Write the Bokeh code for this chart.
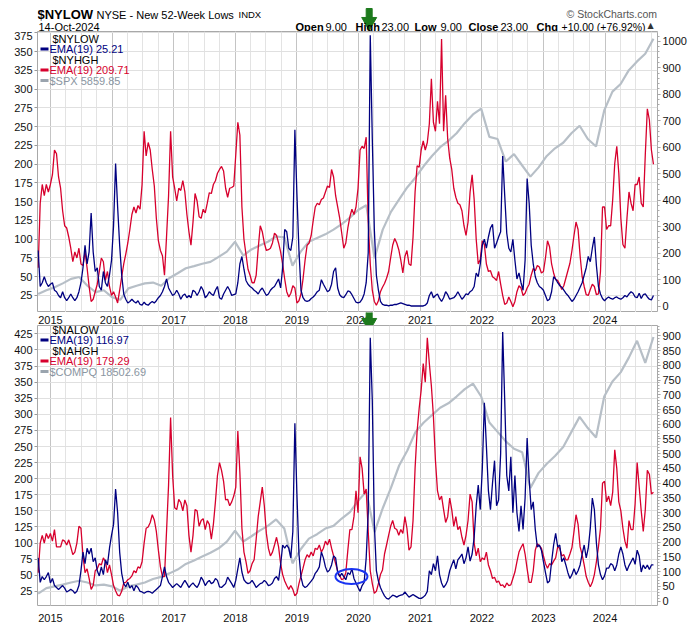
import pandas as pd
from bokeh.plotting import figure
from bokeh.models import Range1d, LinearAxis, FixedTicker, Label, BoxAnnotation, DatetimeTickFormatter
from bokeh.layouts import column
from bokeh.embed import file_html
from bokeh.resources import INLINE
from bokeh.core.properties import value

# ---------------- data ----------------
START, END = "2014-10-20", "2024-10-14"        # first / last bar of every series
VIEW_START, VIEW_END = "2014-10-16", "2024-11-07"
YEARS = list(range(2015, 2025))
YEAR_LABELS = [str(y) for y in YEARS]

# NYSE new 52-week lows, EMA(19)  (left axis)
nylow_ema = [
    85, 37, 42, 50, 42, 37, 40, 42, 32, 30, 25, 22, 30, 22, 18, 22, 27, 22, 18, 22,
    30, 42, 62, 92, 67, 83, 135, 83, 57, 62, 37, 32, 57, 42, 37, 52, 72, 118, 201, 143,
    92, 52, 27, 20, 15, 17, 20, 17, 15, 18, 13, 12, 16, 13, 12, 15, 17, 15, 18, 22,
    25, 30, 37, 47, 35, 30, 25, 27, 32, 27, 20, 25, 27, 22, 25, 22, 32, 30, 25, 30,
    37, 32, 22, 25, 30, 27, 25, 32, 37, 22, 20, 27, 32, 37, 32, 25, 26, 27, 42, 67,
    77, 60, 45, 40, 37, 35, 32, 30, 27, 32, 35, 30, 25, 27, 32, 35, 37, 42, 47, 35,
    62, 113, 110, 88, 85, 103, 246, 160, 85, 32, 22, 18, 17, 18, 21, 23, 26, 30, 32, 46,
    40, 35, 30, 32, 40, 57, 62, 35, 26, 23, 22, 26, 31, 30, 26, 21, 16, 15, 16, 20,
    27, 42, 82, 372, 234, 113, 52, 32, 17, 13, 12, 12, 11, 12, 12, 13, 13, 14, 15, 14,
    13, 12, 12, 11, 11, 11, 11, 11, 11, 11, 12, 15, 25, 30, 22, 25, 27, 21, 17, 22,
    30, 26, 20, 21, 22, 25, 30, 25, 20, 23, 27, 26, 30, 32, 37, 55, 50, 67, 92, 100,
    88, 103, 115, 120, 88, 95, 103, 110, 211, 158, 108, 88, 83, 100, 72, 47, 55, 42, 32, 72,
    181, 148, 92, 67, 50, 42, 37, 35, 32, 25, 18, 20, 30, 50, 47, 42, 38, 36, 32, 28,
    25, 21, 17, 20, 25, 30, 36, 42, 52, 62, 77, 70, 88, 103, 65, 37, 27, 21, 18, 21,
    23, 21, 20, 22, 23, 21, 20, 22, 25, 23, 27, 30, 28, 23, 22, 28, 21, 26, 27, 23,
    20, 19, 25,
]

# NYSE new 52-week highs, EMA(19)  (left axis)
nyhgh_ema = [
    62, 148, 173, 158, 173, 163, 173, 186, 219, 214, 183, 168, 138, 118, 115, 103, 88, 70, 83, 75,
    88, 67, 65, 83, 62, 37, 17, 20, 30, 40, 57, 75, 70, 45, 57, 37, 25, 30, 23, 15,
    32, 50, 67, 80, 95, 113, 133, 143, 135, 145, 140, 173, 244, 211, 229, 219, 193, 171, 128, 98,
    85, 78, 52, 103, 158, 244, 183, 168, 151, 168, 165, 178, 163, 133, 110, 92, 123, 161, 151, 130,
    128, 140, 135, 148, 162, 161, 173, 178, 188, 193, 197, 191, 168, 156, 168, 169, 171, 213, 256, 239,
    143, 100, 80, 60, 52, 42, 42, 52, 88, 118, 110, 95, 85, 86, 88, 95, 108, 105, 95, 83,
    67, 47, 30, 23, 28, 38, 35, 15, 18, 27, 47, 72, 92, 95, 105, 125, 143, 148, 146, 153,
    155, 163, 171, 169, 193, 183, 158, 143, 128, 108, 88, 95, 115, 130, 140, 133, 143, 168, 219, 224,
    221, 236, 123, 67, 32, 17, 12, 18, 30, 36, 41, 48, 57, 75, 92, 101, 95, 86, 72, 55,
    77, 85, 67, 65, 103, 163, 198, 196, 219, 231, 219, 229, 254, 314, 256, 244, 284, 254, 367, 244,
    292, 234, 208, 193, 168, 156, 148, 146, 138, 118, 105, 123, 163, 186, 153, 100, 67, 73, 98, 93,
    67, 57, 58, 50, 48, 45, 57, 40, 25, 13, 15, 23, 17, 10, 17, 30, 38, 35, 25, 28,
    35, 40, 52, 61, 58, 65, 63, 55, 57, 75, 98, 90, 67, 55, 46, 45, 40, 33, 38, 48,
    58, 68, 85, 105, 123, 113, 78, 50, 37, 26, 25, 33, 40, 37, 26, 27, 57, 143, 143, 113,
    118, 118, 153, 201, 224, 188, 128, 93, 88, 128, 163, 148, 138, 173, 173, 183, 148, 143, 213, 274,
    259, 219, 200,
]

# $SPX overlay, on the right-hand scale
spx_overlay = [
    46, 60, 71, 86, 103, 110, 77, 53, 60, 34, 24, 67, 77, 86, 89, 77, 106, 124, 143, 151,
    160, 167, 186, 206, 243, 191, 214, 229, 243, 263, 260, 153, 206, 243, 257, 271, 289, 310, 334, 363,
    381, 181, 289, 356, 403, 449, 486, 529, 567, 600, 624, 653, 691, 724, 746, 639, 631, 546, 574, 531,
    489, 524, 567, 596, 617, 653, 681, 631, 603, 739, 810, 839, 891, 924, 953, 1010,
]

# Nasdaq new 52-week lows, EMA(19)  (left axis)
nalow_ema = [
    77, 39, 48, 43, 48, 54, 38, 45, 34, 31, 28, 31, 34, 30, 24, 26, 28, 26, 22, 25,
    34, 57, 86, 68, 92, 83, 92, 71, 77, 57, 49, 63, 51, 74, 66, 92, 112, 129, 184, 147,
    86, 53, 37, 32, 39, 30, 34, 26, 34, 31, 25, 24, 22, 24, 25, 24, 22, 25, 28, 31,
    34, 48, 63, 48, 39, 35, 31, 34, 37, 34, 31, 37, 42, 37, 31, 35, 38, 34, 31, 37,
    47, 42, 34, 39, 42, 37, 39, 45, 42, 32, 31, 34, 37, 47, 42, 37, 31, 42, 60, 77,
    55, 43, 39, 37, 38, 42, 37, 31, 34, 37, 38, 42, 39, 34, 35, 38, 45, 48, 42, 66,
    97, 92, 97, 92, 77, 118, 286, 176, 83, 47, 34, 31, 33, 37, 41, 45, 53, 57, 63, 86,
    77, 63, 55, 58, 66, 80, 77, 54, 48, 53, 48, 43, 54, 51, 60, 45, 38, 31, 25, 34,
    39, 77, 147, 419, 321, 129, 57, 41, 31, 24, 18, 14, 13, 16, 19, 18, 16, 18, 19, 20,
    24, 20, 16, 18, 20, 18, 16, 14, 14, 16, 19, 25, 57, 51, 68, 57, 80, 51, 38, 31,
    35, 42, 57, 66, 74, 60, 74, 78, 83, 68, 77, 94, 72, 83, 109, 158, 190, 152, 216, 318,
    251, 181, 152, 193, 228, 158, 167, 239, 428, 321, 205, 181, 234, 147, 205, 147, 118, 158, 121, 170,
    263, 199, 152, 164, 121, 94, 97, 89, 71, 54, 38, 41, 71, 97, 115, 94, 97, 71, 77, 66,
    54, 45, 51, 60, 51, 57, 66, 83, 97, 77, 92, 123, 170, 152, 100, 66, 51, 43, 49, 61,
    61, 68, 66, 57, 66, 83, 94, 83, 66, 57, 65, 71, 77, 67, 89, 80, 55, 66, 60, 66,
    59, 66, 66,
]

# Nasdaq new 52-week highs, EMA(19)  (left axis)
nahgh_ema = [
    54, 100, 112, 100, 115, 107, 115, 103, 121, 94, 94, 94, 105, 103, 97, 105, 94, 82, 86, 100,
    126, 123, 80, 54, 60, 45, 28, 34, 57, 60, 68, 66, 77, 71, 54, 66, 51, 34, 26, 19,
    18, 25, 38, 39, 43, 45, 49, 57, 54, 63, 61, 71, 100, 123, 125, 132, 144, 136, 118, 89,
    63, 48, 48, 118, 190, 295, 205, 155, 152, 168, 163, 150, 167, 158, 112, 86, 112, 152, 150, 126,
    135, 138, 121, 135, 129, 106, 129, 164, 205, 225, 213, 196, 167, 168, 158, 164, 173, 187, 274, 210,
    123, 86, 71, 53, 57, 68, 74, 106, 141, 164, 187, 158, 115, 92, 80, 86, 97, 109, 94, 68,
    51, 41, 34, 28, 34, 28, 18, 22, 37, 49, 61, 74, 82, 78, 86, 80, 92, 90, 97, 86,
    92, 103, 97, 106, 92, 80, 68, 57, 49, 43, 45, 54, 89, 121, 121, 141, 181, 147, 234, 216,
    176, 184, 118, 57, 37, 22, 25, 37, 51, 58, 83, 97, 112, 126, 135, 123, 121, 112, 121, 115,
    141, 123, 89, 94, 135, 216, 274, 309, 338, 379, 350, 419, 379, 344, 297, 228, 181, 167, 173, 152,
    132, 141, 170, 152, 126, 141, 121, 126, 109, 97, 112, 135, 176, 164, 100, 80, 92, 71, 77, 74,
    86, 66, 57, 45, 47, 39, 41, 34, 35, 31, 38, 34, 35, 45, 55, 71, 86, 93, 99, 83,
    60, 39, 39, 57, 89, 99, 96, 92, 80, 68, 61, 68, 66, 72, 77, 94, 92, 80, 82, 74,
    74, 83, 93, 118, 144, 129, 94, 82, 66, 48, 39, 32, 39, 51, 71, 94, 123, 193, 196, 164,
    173, 158, 179, 245, 216, 164, 150, 123, 103, 92, 135, 121, 121, 161, 225, 187, 150, 118, 152, 213,
    207, 176, 179,
]

# $COMPQ overlay, on the right-hand scale
compq_overlay = [
    25, 44, 50, 56, 63, 69, 63, 53, 56, 50, 35, 50, 56, 63, 75, 82, 94, 107, 126, 138,
    151, 164, 179, 202, 239, 202, 220, 239, 255, 277, 246, 128, 176, 212, 227, 246, 255, 280, 302, 340,
    372, 234, 315, 384, 460, 511, 574, 606, 631, 656, 671, 694, 719, 738, 694, 606, 574, 542, 517, 505,
    384, 435, 466, 492, 523, 574, 625, 587, 555, 694, 745, 776, 826, 883, 808, 896,
]

top_left_ticks = [25, 50, 75, 100, 125, 150, 175, 200, 225, 250, 275, 300, 325, 350, 375]
top_right_ticks = [0, 100, 200, 300, 400, 500, 600, 700, 800, 900, 1000]
bot_left_ticks = [25, 50, 75, 100, 125, 150, 175, 200, 225, 250, 275, 300, 325, 350, 375, 400, 425]
bot_right_ticks = [0, 50, 100, 150, 200, 250, 300, 350, 400, 450, 500, 550, 600, 650, 700, 750, 800, 850, 900]

top_legend = [("$NYLOW", None), ("EMA(19) 25.21", "navy"), ("$NYHGH", None),
              ("EMA(19) 209.71", "red"), ("$SPX 5859.85", "gray")]
bot_legend = [("$NALOW", None), ("EMA(19) 116.97", "navy"), ("$NAHGH", None),
              ("EMA(19) 179.29", "red"), ("$COMPQ 18502.69", "gray")]

ARROW_DATE = "2020-03-04"
CIRCLE_DATE, CIRCLE_VALUE = "2019-11-20", 48

# ---------------- styling ----------------
FONT = "Liberation Sans"
NAVY = "#000080"
RED = "#d7002d"
GRAY = "#b7bfc7"
GRAY_TXT = "#8a96a2"
COLORS = {"navy": NAVY, "red": RED, "gray": GRAY_TXT}
SWATCH = {"navy": NAVY, "red": RED, "gray": "#9aa4ae"}
ARROW_GREEN = "#1d7a1d"
W = 700
BL, BR = 37, 43          # left / right borders -> frame 37..657


def ms(d):
    return pd.Timestamp(d).value // 10**6


def dates(values):
    return pd.date_range(START, END, periods=len(values))


year_ticks = [ms(f"{y}-01-01") for y in YEARS]
quarter_ticks = [ms(f"{y}-{m:02d}-01") for y in range(2014, 2025) for m in (1, 4, 7, 10)]
x_range = Range1d(pd.Timestamp(VIEW_START), pd.Timestamp(VIEW_END))


def bare(height, y_rng):
    """A strip whose frame spans the same x extent as the panels, without axes."""
    p = figure(width=W, height=height, x_range=x_range, y_range=Range1d(*y_rng),
               x_axis_type=None, y_axis_type=None, output_backend="svg",
               toolbar_location=None, min_border_left=BL, min_border_right=BR,
               min_border_top=0, min_border_bottom=0, outline_line_color=None,
               background_fill_color="white", border_fill_color="white")
    return p


def make_panel(height, bbot, left_rng, lticks, right_rng, rticks, rminor, show_x):
    p = figure(width=W, height=height, x_axis_type="datetime", x_range=x_range,
               y_range=Range1d(*left_rng), output_backend="svg", toolbar_location=None,
               min_border_left=BL, min_border_right=BR, min_border_top=0,
               min_border_bottom=bbot, outline_line_color="#a8a8a8",
               background_fill_color="white", border_fill_color="white")
    p.extra_y_ranges = {"right": Range1d(*right_rng)}

    xt = FixedTicker(ticks=year_ticks, minor_ticks=quarter_ticks)
    p.xaxis.ticker = xt
    p.xgrid.ticker = xt
    fmt = "%Y"
    p.xaxis.formatter = DatetimeTickFormatter(
        microseconds=fmt, milliseconds=fmt, seconds=fmt, minsec=fmt, minutes=fmt,
        hourmin=fmt, hours=fmt, days=fmt, months=fmt, years=fmt)
    p.xaxis.axis_line_color = None
    p.xaxis.major_tick_line_color = None
    p.xaxis.minor_tick_line_color = None
    p.xaxis.major_label_standoff = 2
    p.xaxis.major_label_text_font = FONT
    p.xaxis.major_label_text_font_size = "11px"
    p.xaxis.major_label_text_color = "#111111"
    p.xaxis.visible = show_x
    p.xgrid.grid_line_color = "#c4c4c4"
    p.xgrid.minor_grid_line_color = "#e3e3e3"

    yt = FixedTicker(ticks=lticks)
    p.yaxis.ticker = yt
    p.ygrid.ticker = yt
    p.ygrid.grid_line_color = "#e0e0e0"
    p.yaxis.axis_line_color = None
    p.yaxis.major_tick_out = 3
    p.yaxis.major_tick_in = 0
    p.yaxis.major_tick_line_color = "#999999"
    p.yaxis.minor_tick_line_color = None
    p.yaxis.major_label_standoff = 2
    p.yaxis.major_label_text_font = FONT
    p.yaxis.major_label_text_font_size = "11px"
    p.yaxis.major_label_text_color = "#111111"

    ra = LinearAxis(y_range_name="right", ticker=FixedTicker(ticks=rticks, minor_ticks=rminor))
    ra.axis_line_color = None
    ra.major_tick_out = 3
    ra.major_tick_in = 0
    ra.minor_tick_out = 2
    ra.minor_tick_in = 0
    ra.major_tick_line_color = "#999999"
    ra.minor_tick_line_color = "#aaaaaa"
    ra.major_label_standoff = 2
    ra.major_label_text_font = FONT
    ra.major_label_text_font_size = "11px"
    ra.major_label_text_color = "#111111"
    p.add_layout(ra, "right")
    return p


def label(p, x, y, text, size=11, color="#000000", bold=False, baseline="alphabetic", font=FONT):
    p.add_layout(Label(x=x, y=y, x_units="screen", y_units="screen", text=text,
                       text_font=font, text_font_size=f"{size}px", text_color=color,
                       text_font_style="bold" if bold else "normal",
                       text_baseline=baseline))


def legend(p, frame_h, items):
    for i, (txt, kind) in enumerate(items):
        yc = frame_h - 7 - 10.5 * i
        if kind is None:
            label(p, 15, yc, txt, baseline="middle")
        else:
            p.add_layout(BoxAnnotation(left=3, right=11, bottom=yc - 1.5, top=yc + 1.5,
                                       left_units="screen", right_units="screen",
                                       top_units="screen", bottom_units="screen",
                                       fill_color=SWATCH[kind], fill_alpha=1, line_alpha=0))
            label(p, 12, yc, txt, color=COLORS[kind], baseline="middle")


def arrow(p, shaft_y, head_y):
    d = [pd.Timestamp(ARROW_DATE)]
    p.rect(x=d, y=[shaft_y], width=6, height=9, width_units="screen", height_units="screen",
           fill_color=ARROW_GREEN, line_color=ARROW_GREEN)
    p.scatter(x=d, y=[head_y], marker="inverted_triangle", size=15,
              fill_color=ARROW_GREEN, line_color=ARROW_GREEN)


minor20 = list(range(0, 1041, 20))
minor10 = list(range(0, 931, 10))

# ---------------- header strip (31 px) ----------------
HEAD_H = 31
head = bare(HEAD_H, (0, HEAD_H))
label(head, 0, 17, "$NYLOW", size=13, bold=True)
label(head, 59, 17, "NYSE - New 52-Week Lows", size=11)
label(head, 201, 17, "INDX", size=9.5)
label(head, 529, 18, "\u00a9 StockCharts.com", size=10.5, color="#555555")
label(head, 1, 5, "14-Oct-2024", size=11)
for x, txt, b, s in [(258, "Open", True, 11), (288, "9.00", False, 11), (318, "High", True, 11),
                     (344, "23.00", False, 11), (377, "Low", True, 11), (403, "9.00", False, 11),
                     (431, "Close", True, 11), (463, "23.00", False, 11), (499, "Chg", True, 11),
                     (524, "+10.00 (+76.92%)", False, 10.5)]:
    label(head, x, 5, txt, size=s, bold=b)
label(head, 610, 6, "\u25b2", size=8, color="#333333", font="DejaVu Sans")
arrow(head, 18.5, 9.7)

# ---------------- top panel ----------------
TOP_FRAME_H = 281
top = make_panel(TOP_FRAME_H, 0, (2.3, 377), top_left_ticks, (-24, 1037),
                 top_right_ticks, minor20, False)
top.line(dates(spx_overlay), spx_overlay, y_range_name="right", line_color=GRAY, line_width=2.2)
top.line(dates(nyhgh_ema), nyhgh_ema, line_color=RED, line_width=1.3)
top.line(dates(nylow_ema), nylow_ema, line_color=NAVY, line_width=1.3)
legend(top, TOP_FRAME_H, top_legend)

# ---------------- gap strip with the top panel's year labels (13 px) ----------------
GAP_H = 13
gap = bare(GAP_H, (0, GAP_H))
gap.text(x=[pd.Timestamp(f"{y}-01-01") for y in YEARS], y=[6] * len(YEARS), text=YEAR_LABELS,
         text_font=value(FONT), text_font_size="11px", text_color="#111111",
         text_align="center", text_baseline="middle")
arrow(gap, 10, 2.7)

# ---------------- bottom panel ----------------
BOT_FRAME_H = 283
bot = make_panel(BOT_FRAME_H + 16, 16, (3, 438), bot_left_ticks, (-15, 935),
                 bot_right_ticks, minor10, True)
bot.line(dates(compq_overlay), compq_overlay, y_range_name="right", line_color=GRAY, line_width=2.2)
bot.line(dates(nahgh_ema), nahgh_ema, line_color=RED, line_width=1.3)
bot.line(dates(nalow_ema), nalow_ema, line_color=NAVY, line_width=1.3)
bot.ellipse(x=[pd.Timestamp(CIRCLE_DATE)], y=[CIRCLE_VALUE], width=32, height=15,
            width_units="screen", height_units="screen", fill_color=None,
            line_color="#1a34f2", line_width=2)
legend(bot, BOT_FRAME_H, bot_legend)

layout = column(head, top, gap, bot, spacing=0)
open("out.html", "w").write(file_html(layout, INLINE))
